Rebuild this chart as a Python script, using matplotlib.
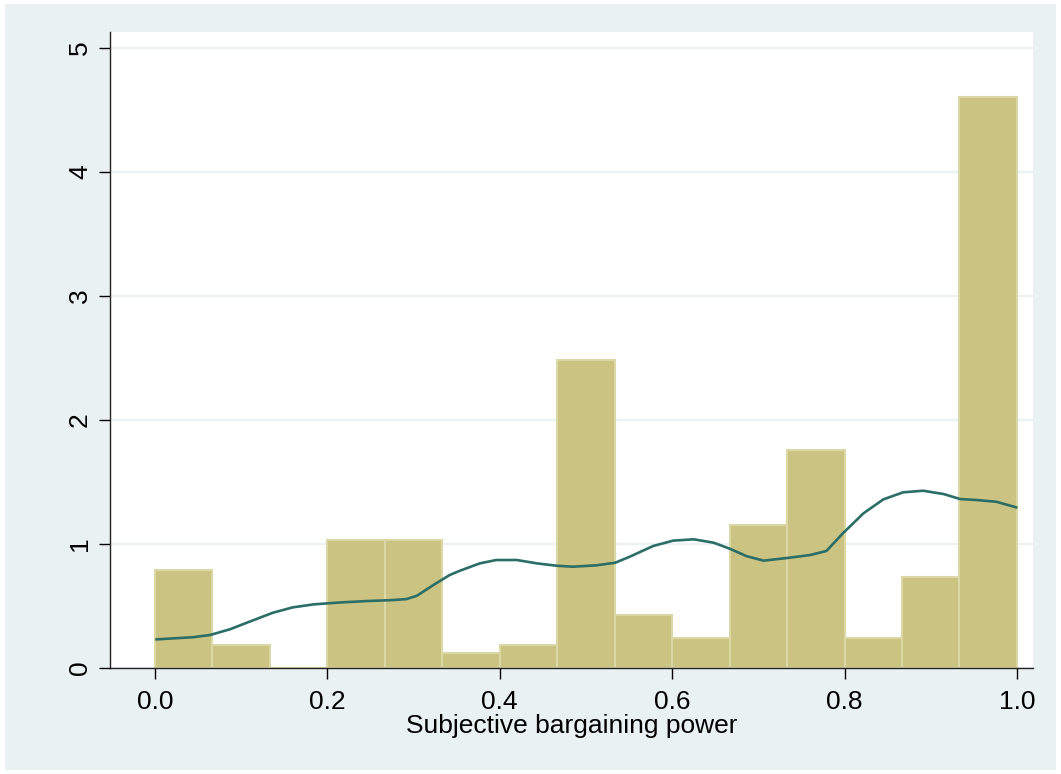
import numpy as np
import matplotlib.pyplot as plt
from matplotlib.patches import Rectangle

plt.rcParams['font.family'] = ['Liberation Sans', 'DejaVu Sans']

# histogram: 15 equal bins on [0, 1]
bin_edges = np.linspace(0, 1, 16)
bar_heights = [0.79, 0.185, 0.0, 1.032, 1.032, 0.123, 0.185, 2.484,
               0.427, 0.245, 1.153, 1.758, 0.245, 0.731, 4.605]

# kernel density curve
kde_x = [0.002, 0.044, 0.064, 0.087, 0.110, 0.137, 0.160, 0.184, 0.211,
         0.246, 0.276, 0.292, 0.304, 0.323, 0.342, 0.354, 0.377, 0.396,
         0.420, 0.443, 0.466, 0.485, 0.512, 0.534, 0.551, 0.578, 0.601,
         0.625, 0.648, 0.667, 0.686, 0.706, 0.733, 0.760, 0.779, 0.798,
         0.822, 0.845, 0.868, 0.891, 0.915, 0.934, 0.953, 0.976, 0.999]
kde_y = [0.231, 0.248, 0.266, 0.312, 0.374, 0.446, 0.489, 0.513, 0.527,
         0.540, 0.548, 0.556, 0.583, 0.669, 0.750, 0.785, 0.844, 0.871,
         0.871, 0.844, 0.825, 0.817, 0.828, 0.849, 0.898, 0.984, 1.027,
         1.038, 1.011, 0.962, 0.903, 0.866, 0.887, 0.911, 0.944, 1.086,
         1.248, 1.360, 1.417, 1.430, 1.403, 1.363, 1.355, 1.341, 1.296]

x_ticks = [0.0, 0.2, 0.4, 0.6, 0.8, 1.0]
y_ticks = [0, 1, 2, 3, 4, 5]

W, H = 1061, 774
fig = plt.figure(figsize=(W / 100, H / 100), dpi=100, facecolor='white')
fig.patches.append(Rectangle((5 / W, 4 / H), 1 - 10 / W, 1 - 8 / H,
                             transform=fig.transFigure, facecolor='#eaf1f3',
                             edgecolor='none', zorder=-10))

ax = fig.add_axes([110 / W, (H - 668) / H, (1033 - 110) / W, (668 - 32) / H])
ax.set_facecolor('white')

ax.bar(bin_edges[:-1], bar_heights, width=np.diff(bin_edges), align='edge',
       color='#cbc381', edgecolor='#dcd8a6', linewidth=1.5, zorder=2)
ax.plot(kde_x, kde_y, color='#2b6e67', linewidth=1.9, zorder=3,
        solid_joinstyle='round')

ax.set_xlim(-0.052, 1.0186)
ax.set_ylim(0, 5.13)
ax.set_yticks(y_ticks)
ax.set_xticks(x_ticks)
ax.set_xticklabels([f'{t:.1f}' for t in x_ticks])
ax.set_yticklabels([str(t) for t in y_ticks], rotation=90, va='center')
ax.grid(axis='y', color='#eaf2f4', linewidth=1.6, zorder=1)
ax.set_axisbelow(True)

for s in ['top', 'right']:
    ax.spines[s].set_visible(False)
for s in ['left', 'bottom']:
    ax.spines[s].set_color('#222222')
    ax.spines[s].set_linewidth(1.0)

ax.tick_params(axis='both', direction='out', length=8, width=1.0,
               labelsize=19, colors='black')
ax.tick_params(axis='x', pad=8)
ax.tick_params(axis='y', pad=5)
ax.set_xlabel('Subjective bargaining power', fontsize=19, labelpad=0)

fig.savefig('out.png', dpi=100)
